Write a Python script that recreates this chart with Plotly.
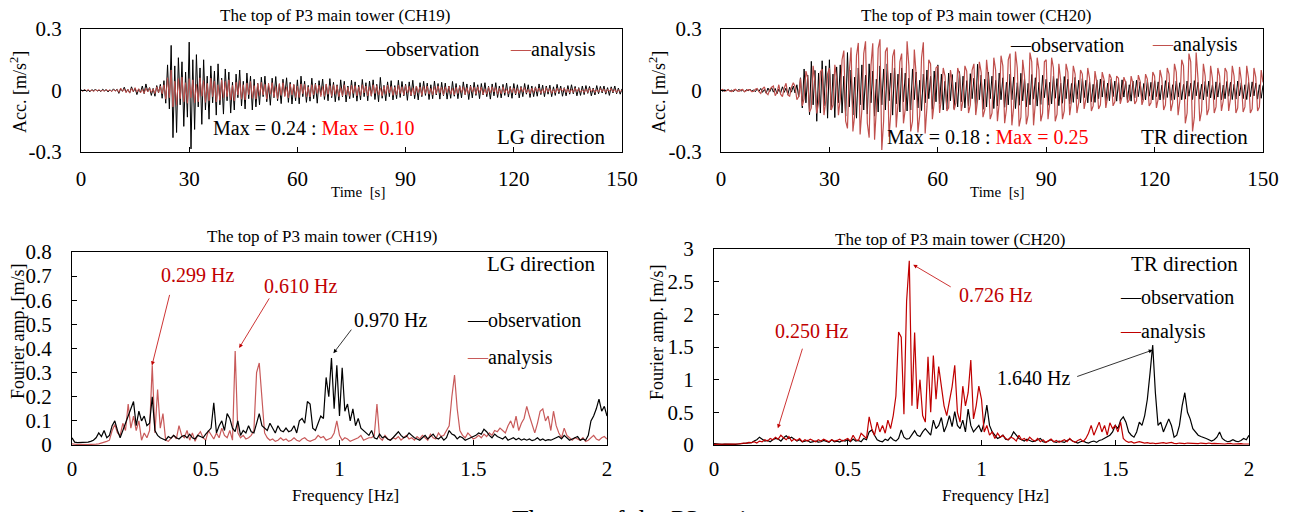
import numpy as np
import plotly.graph_objects as go

W, H = 1290, 512
OFF = 8  # the page body adds an 8 px margin around the plot div
FW, FH = W - OFF, H - OFF
SERIF = "Liberation Serif"

# acceleration time histories, one value every 0.5 s, in 0.001 m/s^2
acc_obs_ch19 = [
    3, -2, 5, -4, 1, -6, 4, -2, 7, -3, 2, -5, 6, -1, 4, -7, 3, -4, 8, -2,
    6, -14, 9, -4, 16, -8, 5, -12, 18, -6, 11, -20, 7, -9, 22, -15, 32, -6, 14, -24,
    10, -28, 24, -12, 30, -38, 48, -62, 125, -90, 220, -230, 120, -205, 160, -70, 140, -175, 90, -130,
    236, -285, 150, -190, 175, -80, 110, -165, 150, -95, 70, -140, 120, -60, 95, -120, 130, -70, 60, -115,
    105, -50, 90, -110, 40, -95, 80, -35, 100, -75, 45, -90, 85, -40, 70, -95, 55, -80, 35, -70,
    65, -30, 70, -55, 25, -72, 60, -35, 68, -50, 30, -64, 55, -25, 62, -58, 40, -66, 28, -50,
    52, -65, 70, -30, 45, -58, 25, -52, 60, -40, 35, -62, 48, -22, 56, -44, 30, -50, 58, -35,
    40, -55, 28, -48, 52, -30, 45, -56, 22, -40, 50, -35, 42, -52, 26, -46, 54, -30, 38, -50,
    46, -28, 52, -44, 30, -55, 64, -38, 25, -50, 42, -30, 48, -46, 24, -40, 50, -34, 44, -26,
    30, -48, 42, -26, 50, -40, 22, -46, 38, -30, 45, -24, 36, -44, 28, -40, 46, -22, 34, -42,
    40, -25, 36, -42, 22, -38, 44, -28, 34, -40, 24, -36, 42, -20, 32, -44, 26, -36, 40, -24,
    28, -40, 34, -22, 38, -30, 20, -42, 32, -26, 38, -34, 22, -36, 30, -24, 36, -32, 20, -38,
    34, -22, 28, -36, 20, -30, 34, -18, 28, -34, 22, -30, 18, -28, 32, -20, 26, -30, 22, -18,
    26, -30, 18, -24, 30, -16, 22, -28, 14, -26, 24, -18, 28, -16, 20, -26, 14, -24, 22, -20,
    24, -14, 20, -26, 12, -22, 24, -16, 20, -12, 22, -18, 14, -24, 18, -12, 22, -16, 12, -18,
    8,
]
acc_ana_ch19 = [
    2, -4, 3, -1, 5, -3, 2, -5, 3, -2, 4, -3, 1, -4, 5, -2, 3, -6, 4, -3,
    5, -9, 12, -4, 8, -11, 6, -13, 10, -5, 14, -8, 9, -12, 6, -14, 11, -7, 13, -10,
    8, -15, 18, -10, 22, -16, 28, -42, 62, -35, 100, -80, 45, -72, 58, -40, 65, -55, 38, -62,
    58, -35, 52, -60, 30, -55, 62, -28, 48, -58, 35, -50, 60, -30, 45, -56, 28, -48, 52, -36,
    44, -30, 52, -46, 25, -50, 40, -22, 48, -42, 28, -46, 36, -20, 44, -38, 24, -42, 34, -26,
    40, -22, 30, -42, 36, -18, 38, -32, 20, -40, 34, -24, 38, -30, 18, -36, 32, -22, 30, -34,
    22, -34, 32, -16, 30, -30, 18, -32, 28, -22, 30, -14, 26, -30, 20, -28, 32, -18, 24, -28,
    28, -18, 24, -30, 14, -26, 28, -22, 16, -28, 26, -14, 24, -26, 18, -24, 28, -12, 22, -26,
    18, -26, 28, -14, 24, -22, 12, -26, 22, -18, 26, -12, 20, -24, 16, -22, 26, -14, 18, -22,
    24, -12, 20, -24, 14, -22, 22, -10, 18, -24, 20, -14, 22, -18, 10, -22, 20, -16, 22, -12,
    16, -22, 18, -10, 20, -18, 12, -22, 16, -14, 20, -10, 18, -20, 14, -16, 20, -8, 16, -18,
    18, -10, 16, -20, 8, -18, 16, -12, 18, -8, 14, -18, 10, -16, 18, -12, 8, -16, 14, -10,
    12, -16, 10, -14, 16, -8, 14, -12, 6, -16, 12, -10, 14, -6, 12, -14, 8, -12, 14, -8,
    10, -14, 6, -12, 12, -8, 10, -4, 12, -10, 8, -12, 6, -10, 12, -6, 10, -8, 4, -10,
    8, -10, 12, -6, 8, -10, 4, -8, 10, -6, 8, -10, 6, -4, 10, -8, 6, -10, 4, -6,
    4,
]
acc_obs_ch20 = [
    2, -4, 3, -1, 5, -3, 2, -5, 4, -2, 6, -3, 2, -6, 4, -2, 7, -4, 3, -6,
    8, -4, 10, -9, 5, -13, 12, -6, 15, -8, 10, -16, 7, -12, 18, -9, 12, -20, 16, -8,
    22, -12, 28, -32, 62, -85, 105, -60, 75, -118, 142, -70, 98, -150, 85, -110, 145, -75, 120, -135,
    150, -95, 80, -132, 115, -60, 125, -110, 70, -125, 185, -80, 100, -120, 65, -135, 110, -70, 125, -95,
    75, -115, 130, -60, 95, -125, 55, -105, 120, -70, 105, -95, 130, -50, 85, -120, 110, -65, 80, -105,
    110, -55, 85, -100, 60, -95, 105, -45, 90, -85, 50, -98, 80, -60, 100, -40, 70, -92, 95, -55,
    125, -65, 80, -95, 45, -90, 85, -50, 78, -88, 40, -80, 92, -55, 70, -85, 48, -75, 82, -40,
    60, -85, 128, -45, 75, -92, 55, -80, 90, -40, 70, -88, 50, -75, 85, -45, 62, -82, 40, -70,
    80, -45, 66, -88, 38, -72, 84, -50, 60, -80, 35, -70, 78, -42, 62, -76, 40, -68, 74, -35,
    55, -72, 40, -65, 70, -38, 58, -74, 36, -62, 68, -40, 55, -66, 34, -58, 64, -42, 50, -60,
    58, -35, 50, -60, 42, -55, 30, -58, 52, -40, 56, -32, 48, -54, 36, -50, 55, -30, 46, -52,
    40, -50, 52, -32, 45, -48, 28, -52, 46, -36, 50, -30, 42, -48, 34, -46, 50, -28, 40, -46,
    48, -30, 42, -46, 26, -44, 48, -34, 40, -48, 28, -44, 46, -32, 38, -45, 30, -42, 46, -28,
    36, -44, 48, -26, 40, -42, 30, -46, 44, -30, 46, -36, 28, -44, 42, -32, 38, -46, 26, -40,
    44, -28, 40, -44, 30, -42, 46, -26, 38, -40, 28, -44, 40, -30, 42, -26, 36, -42, 28, -38,
    25,
]
acc_ana_ch20 = [
    3, 5, -4, -1, 4, -3, -5, 2, 6, -2, -4, 3, 5, -6, -2, 4, 3, -5, -4, 6,
    10, -6, -14, 8, 18, -12, -20, 5, 16, 22, -25, -10, 28, -18, -30, 12, 35, -22, -28, 15,
    38, 20, -45, -30, 60, -75, -40, 95, 60, -105, -85, 120, 40, -112, -60, 90, 105, -120, -50, 80,
    110, -95, -70, 125, 60, -120, -40, 150, 195, -150, -185, 90, 210, -200, -120, 170, 232, -215, -90, 180,
    240, -160, -230, 120, 230, -240, -90, 205, 250, -290, -150, 190, 210, -225, -110, 165, 200, -180, -60, 140,
    180, -160, -90, 240, 120, -200, -150, 200, 80, -205, -120, 160, 235, -210, -80, 150, 130, -140, -60, 110,
    120, -110, -40, 110, 70, -100, -85, 100, 40, -95, -60, 110, 80, -100, -45, 120, 95, -110, -70, 100,
    130, -120, -50, 140, 90, -130, -95, 150, 60, -140, -110, 160, 100, -150, -60, 170, 120, -160, -90, 150,
    180, -170, -80, 190, 110, -175, -130, 150, 70, -165, -120, 185, 140, -170, -60, 160, 100, -150, -110, 140,
    150, -140, -60, 160, 110, -150, -115, 130, 50, -140, -100, 130, 90, -120, -50, 120, 80, -110, -60, 100,
    80, -90, -40, 110, 60, -100, -75, 95, 40, -90, -70, 90, 55, -85, -30, 80, 60, -75, -55, 70,
    60, -65, -30, 65, 40, -60, -45, 70, 35, -65, -50, 75, 45, -70, -40, 80, 55, -75, -60, 90,
    70, -85, -40, 100, 60, -95, -70, 110, 80, -100, -60, 130, 90, -120, -50, 150, 120, -160, -110, 180,
    140, -200, -130, 185, 60, -150, -100, 130, 70, -120, -90, 120, 60, -110, -80, 110, 70, -100, -50, 110,
    90, -100, -40, 120, 70, -110, -85, 115, 50, -105, -80, 120, 60, -110, -90, 110, 65, -100, -80, 100,
    40,
]

# Fourier amplitude spectra, one value every 0.01 Hz, in 0.001 m/s
fs_obs_ch19 = [
    30, 12, 10, 10, 11, 10, 12, 15, 20, 30,
    50, 35, 60, 30, 40, 80, 100, 60, 30, 60,
    90, 120, 150, 180, 80, 140, 100, 120, 80, 90,
    200, 60, 40, 30, 25, 20, 35, 28, 40, 30,
    25, 35, 40, 30, 45, 30, 25, 40, 35, 30,
    45, 60, 70, 175, 50, 80, 100, 60, 130, 110,
    70, 55, 100, 40, 60, 50, 80, 55, 50, 90,
    130, 80, 70, 60, 90, 70, 50, 80, 60, 55,
    70, 55, 60, 80, 50, 100, 110, 90, 180, 170,
    70, 60, 90, 120, 110, 280, 200, 360, 150, 330,
    120, 320, 140, 170, 100, 150, 80, 110, 70, 60,
    50, 40, 60, 30, 25, 45, 30, 35, 25, 20,
    30, 45, 55, 40, 30, 35, 50, 40, 30, 25,
    20, 30, 40, 25, 35, 45, 30, 25, 35, 20,
    30, 60, 45, 40, 25, 35, 30, 20, 25, 30,
    35, 40, 50, 45, 65, 55, 40, 30, 45, 35,
    30, 25, 35, 20, 25, 30, 22, 28, 20, 25,
    20, 25, 18, 22, 30, 20, 25, 18, 22, 20,
    25, 30, 35, 25, 40, 30, 20, 25, 30, 35,
    20, 25, 20, 40, 100, 120, 150, 190, 140, 160,
    120,
]
fs_ana_ch19 = [
    5, 3, 2, 3, 2, 3, 2, 3, 5, 4,
    5, 8, 10, 15, 20, 60, 85, 50, 40, 90,
    60, 170, 70, 120, 60, 100, 20, 50, 30, 60,
    330, 50, 230, 70, 130, 20, 15, 30, 40, 25,
    80, 40, 30, 60, 20, 50, 15, 40, 55, 30,
    20, 60, 40, 25, 50, 30, 70, 40, 30, 60,
    20, 390, 50, 30, 40, 25, 30, 40, 60, 300,
    340, 200, 50, 30, 20, 25, 15, 20, 30, 20,
    25, 15, 20, 30, 20, 15, 25, 30, 20, 15,
    20, 25, 40, 30, 35, 20, 25, 30, 50, 100,
    40, 20, 30, 25, 15, 20, 25, 30, 40, 20,
    25, 30, 30, 40, 170, 30, 20, 40, 25, 20,
    30, 25, 35, 20, 30, 40, 25, 30, 20, 35,
    25, 40, 30, 20, 45, 30, 25, 50, 35, 40,
    60, 80, 200, 290, 150, 60, 40, 30, 50, 35,
    25, 30, 40, 30, 45, 35, 50, 40, 60, 55,
    70, 60, 50, 80, 100, 70, 120, 60, 90, 110,
    160, 120, 80, 50, 90, 140, 150, 100, 120, 60,
    140, 80, 50, 30, 70, 40, 30, 20, 30, 25,
    20, 30, 15, 20, 30, 40, 25, 20, 30, 35,
    25,
]
fs_obs_ch20 = [
    20, 15, 12, 10, 12, 10, 15, 12, 10, 15,
    20, 30, 25, 40, 35, 60, 80, 120, 90, 60,
    70, 50, 80, 100, 90, 60, 110, 140, 100, 120,
    90, 60, 80, 50, 60, 70, 40, 50, 60, 45,
    50, 70, 60, 40, 80, 50, 60, 45, 70, 60,
    80, 50, 90, 60, 70, 50, 100, 80, 200, 230,
    150, 80, 60, 50, 90, 70, 120, 80, 60, 100,
    230, 120, 90, 100, 160, 220, 150, 130, 200, 250,
    200, 150, 380, 250, 300, 420, 200, 300, 450, 280,
    510, 300, 250, 380, 200, 550, 300, 200, 250, 300,
    200, 350, 610, 300, 200, 150, 100, 120, 150, 90,
    80, 120, 200, 150, 100, 80, 60, 90, 70, 50,
    60, 80, 100, 50, 40, 60, 80, 50, 40, 60,
    50, 40, 70, 90, 60, 40, 30, 50, 60, 40,
    30, 50, 60, 40, 70, 80, 100, 120, 150, 200,
    300, 250, 380, 430, 350, 200, 150, 120, 200, 350,
    300, 450, 700, 1100, 1530, 800, 300, 350, 200, 300,
    400, 300, 120, 150, 300, 600, 800, 500, 400, 250,
    200, 150, 130, 120, 100, 80, 60, 80, 120, 200,
    100, 70, 50, 60, 80, 60, 50, 70, 100, 80,
    150,
]
fs_ana_ch20 = [
    10, 12, 10, 12, 10, 12, 15, 12, 10, 15,
    20, 30, 25, 40, 35, 50, 30, 60, 50, 80,
    60, 100, 80, 120, 90, 150, 110, 80, 130, 60,
    90, 70, 100, 50, 80, 60, 90, 70, 50, 80,
    60, 90, 70, 50, 80, 60, 70, 90, 60, 80,
    100, 60, 150, 80, 70, 180, 140, 100, 430, 250,
    150, 350, 200, 300, 180, 380, 250, 450, 750, 1730,
    1650, 470, 2200, 2820, 600, 1720, 550, 1000, 450, 350,
    1350, 500, 1370, 700, 1200, 900, 600, 450, 700, 890,
    1220, 500, 350, 900, 600, 800, 1300, 400, 600, 900,
    700, 200, 300, 150, 200, 100, 180, 120, 150, 100,
    80, 120, 100, 60, 150, 80, 100, 60, 120, 80,
    60, 100, 50, 80, 40, 60, 90, 50, 70, 40,
    60, 80, 50, 100, 60, 40, 70, 90, 50, 100,
    180, 300, 150, 250, 350, 200, 300, 150, 340, 250,
    300, 200, 350, 100, 60, 40, 50, 30, 40, 50,
    40, 30, 35, 25, 30, 20, 25, 30, 35, 25,
    30, 40, 25, 20, 30, 25, 20, 30, 25, 20,
    25, 20, 30, 25, 20, 30, 20, 25, 20, 15,
    20, 15, 20, 25, 15, 20, 15, 20, 15, 20,
    15,
]

time_ticks = [0, 30, 60, 90, 120, 150]
freq_ticks = [0, 0.5, 1, 1.5, 2]
freq_ticktext = ["0", "0.5", "1", "1.5", "2"]

t = np.arange(len(acc_obs_ch19)) * 0.5
f = np.arange(len(fs_obs_ch19)) * 0.01

RED_TOP = "#c0504d"
RED_DARK = "#c00000"

fig = go.Figure()


def line(x, y, ax, color, width):
    fig.add_trace(go.Scatter(x=x, y=np.array(y) / 1000, mode="lines",
                             xaxis=ax[0], yaxis=ax[1],
                             line=dict(color=color, width=width)))


line(t, acc_obs_ch19, ("x", "y"), "black", 1)
line(t, acc_ana_ch19, ("x", "y"), RED_TOP, 1)
line(t, acc_obs_ch20, ("x2", "y2"), "black", 1)
line(t, acc_ana_ch20, ("x2", "y2"), RED_TOP, 1.2)
line(f, fs_ana_ch19, ("x3", "y3"), "#c85a5a", 1.2)
line(f, fs_obs_ch19, ("x3", "y3"), "black", 1.2)
line(f, fs_obs_ch20, ("x4", "y4"), "black", 1.2)
line(f, fs_ana_ch20, ("x4", "y4"), RED_DARK, 1.2)


def px(x):
    return (x - OFF) / FW


def py(y):
    return 1 - (y - OFF) / FH


def axis(p0, p1, rng, tickvals, ticktext, anchor, vertical=False, standoff=3):
    dom = [py(p1), py(p0)] if vertical else [px(p0), px(p1)]
    return dict(domain=dom, range=rng, tickvals=tickvals, ticktext=ticktext, anchor=anchor,
                ticks="inside", ticklen=5, tickcolor="black", showline=True, linecolor="black",
                linewidth=1, mirror=True, showgrid=False, zeroline=False, automargin=False,
                tickfont=dict(family=SERIF, size=21, color="black"),
                ticklabelstandoff=standoff)


top_y = ([-0.3, 0, 0.3], ["-0.3", "0", "0.3"])
fig.update_layout(
    xaxis=axis(81, 622, [0, 150], time_ticks, [str(v) for v in time_ticks], "y", standoff=8),
    yaxis=axis(29, 152, [-0.3, 0.3], *top_y, "x", vertical=True, standoff=14),
    xaxis2=axis(721, 1263, [0, 150], time_ticks, [str(v) for v in time_ticks], "y2", standoff=8),
    yaxis2=axis(29, 152, [-0.3, 0.3], *top_y, "x2", vertical=True, standoff=14),
    xaxis3=axis(72, 607, [0, 2], freq_ticks, freq_ticktext, "y3", standoff=5),
    yaxis3=axis(252, 445, [0, 0.8], [i / 10 for i in range(9)],
                ["0"] + [f"{i / 10:.1f}" for i in range(1, 9)], "x3", vertical=True, standoff=15),
    xaxis4=axis(714, 1249, [0, 2], freq_ticks, freq_ticktext, "y4", standoff=5),
    yaxis4=axis(249, 445, [0, 3], [0, 0.5, 1, 1.5, 2, 2.5, 3],
                ["0", "0.5", "1", "1.5", "2", "2.5", "3"], "x4", vertical=True, standoff=15),
)

ann = []


def txt(x, y, s, size, color="black", xanchor="center", angle=0):
    ann.append(dict(x=px(x), y=py(y), xref="paper", yref="paper", text=s, showarrow=False,
                    font=dict(family=SERIF, size=size, color=color), xanchor=xanchor,
                    yanchor="middle", textangle=angle))


def arrow(xa, ya, x, y, ax, ay, color, dx=0, dy=0):
    ann.append(dict(x=x, y=y, xref=xa, yref=ya, ax=ax, ay=ay, axref="pixel", ayref="pixel",
                    text="", showarrow=True, arrowhead=2, arrowsize=1, arrowwidth=0.8,
                    arrowcolor=color, standoff=0, xshift=dx, yshift=dy))


def leg(color):
    return f"<span style='color:{color}'>—</span>"


# titles
txt(335, 16, "The top of P3 main tower (CH19)", 17)
txt(976, 16, "The top of P3 main tower (CH20)", 17)
txt(322, 237, "The top of P3 main tower (CH19)", 17)
txt(950, 240, "The top of P3 main tower (CH20)", 17)

# axis titles
txt(19, 92, "Acc. [m/s<sup>2</sup>]", 18, angle=-90)
txt(658, 92, "Acc. [m/s<sup>2</sup>]", 18, angle=-90)
txt(18, 332, "Fourier amp. [m/s]", 18, angle=-90)
txt(657, 333, "Fourier amp. [m/s]", 18, angle=-90)
txt(358, 192, "Time  [s]", 15)
txt(997, 192, "Time  [s]", 15)
txt(346, 495, "Frequency [Hz]", 17)
txt(995, 495, "Frequency [Hz]", 17)

# top panels
txt(363, 49, leg("black") + "observation", 20, xanchor="left")
txt(508, 49, leg(RED_TOP) + "analysis", 20, xanchor="left")
txt(211, 128, "Max = 0.24 : <span style='color:#ff0000'>Max = 0.10</span>", 20, xanchor="left")
txt(607, 137, "LG direction", 21, xanchor="right")
txt(1008, 45, leg("black") + "observation", 20, xanchor="left")
txt(1150, 45, leg(RED_TOP) + "analysis", 20, xanchor="left")
txt(885, 137, "Max = 0.18 : <span style='color:#ff0000'>Max = 0.25</span>", 20, xanchor="left")
txt(1250, 137, "TR direction", 21, xanchor="right")

# bottom-left panel
txt(597, 264, "LG direction", 21, xanchor="right")
txt(465, 320, leg("black") + "observation", 20, xanchor="left")
txt(465, 357, leg("#c85a5a") + "analysis", 20, xanchor="left")
txt(197, 275, "0.299 Hz", 20, RED_DARK)
txt(300, 286, "0.610 Hz", 20, RED_DARK)
txt(390, 320, "0.970 Hz", 20)
arrow("x3", "y3", 0.299, fs_ana_ch19[30] / 1000, 18, -72, RED_DARK)
arrow("x3", "y3", 0.610, fs_ana_ch19[61] / 1000, 31, -51, RED_DARK, dx=4, dy=3)
arrow("x3", "y3", 0.970, fs_obs_ch19[97] / 1000, 19, -25, "black", dx=2, dy=5)

# bottom-right panel
txt(1240, 264, "TR direction", 21, xanchor="right")
txt(1118, 297, leg("black") + "observation", 20, xanchor="left")
txt(1118, 331, leg(RED_DARK) + "analysis", 20, xanchor="left")
txt(812, 331, "0.250 Hz", 20, RED_DARK)
txt(995, 295, "0.726 Hz", 20, RED_DARK)
txt(1033, 378, "1.640 Hz", 20)
arrow("x4", "y4", 0.250, fs_ana_ch20[25] / 1000, 25, -81, RED_DARK, dx=-3, dy=7)
arrow("x4", "y4", 0.726, fs_ana_ch20[73] / 1000, 39, 23, RED_DARK, dx=5, dy=-4)
arrow("x4", "y4", 1.640, fs_obs_ch20[164] / 1000, -77, 27, "black", dy=-5)

# caption cut off at the bottom of the page
ann.append(dict(x=px(510), y=py(503), xref="paper", yref="paper", showarrow=False,
                text="The top of the P3 main tower", xanchor="left", yanchor="top",
                font=dict(family=SERIF, size=27, color="black")))

fig.update_layout(annotations=ann, width=FW, height=FH, showlegend=False,
                  margin=dict(l=0, r=0, t=0, b=0),
                  paper_bgcolor="white", plot_bgcolor="white")

fig.write_html("out.html")
